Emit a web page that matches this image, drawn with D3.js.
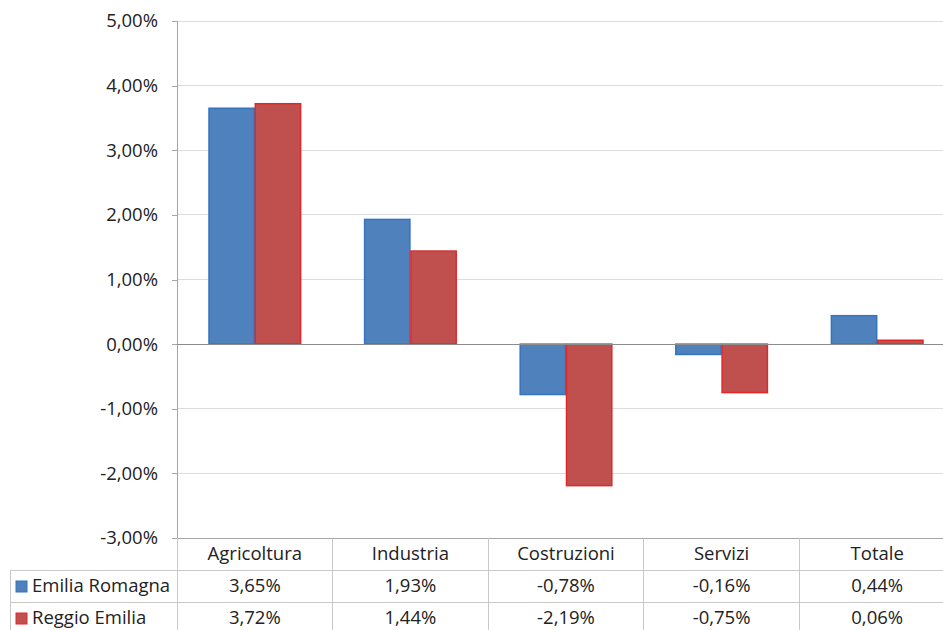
<!DOCTYPE html>
<html>
<head>
<meta charset="utf-8">
<script src="https://cdn.jsdelivr.net/npm/d3@7"></script>
<style>
  body { margin: 0; background: #fff; }
  text { font-family: "Open Sans", "Liberation Sans", sans-serif; fill: #222; }
</style>
</head>
<body>
<div id="chart"></div>
<script>
const categories = ['Agricoltura', 'Industria', 'Costruzioni', 'Servizi', 'Totale'];
const seriesNames = ['Emilia Romagna', 'Reggio Emilia'];
const emiliaRomagna = [3.65, 1.93, -0.78, -0.16, 0.44];
const reggioEmilia = [3.72, 1.44, -2.19, -0.75, 0.06];
const yTicks = [-3, -2, -1, 0, 1, 2, 3, 4, 5];

const W = 943, H = 630;
const cfg = {
  left: 177,
  right: 955,   // plot runs past the window edge, as in the original crop
  top: 21,
  bottom: 538,
  tableLeft: 10,
  rowH: 32,
  fontSize: 18.5,
};
const colors = [
  { fill: '#4F81BD', stroke: '#3574BE' },
  { fill: '#C0504D', stroke: '#E0282B' },
];
const fmt = (v) => v.toFixed(2).replace('.', ',') + '%';

const svg = d3.select('#chart').append('svg')
  .attr('width', W).attr('height', H);

/* ---------------- SCALES ---------------- */
const x = d3.scaleBand().domain(categories).range([cfg.left, cfg.right]);
const x1 = d3.scaleBand().domain(seriesNames).range([0, x.bandwidth()]).paddingOuter(0.68).paddingInner(0);
const y = d3.scaleLinear().domain([-3, 5]).range([cfg.bottom, cfg.top]);

/* ---------------- GRID ---------------- */
svg.append('g').selectAll('line').data(yTicks.filter((t) => t !== -3 && t !== 0))
  .join('line')
  .attr('x1', cfg.left).attr('x2', cfg.right)
  .attr('y1', (d) => y(d)).attr('y2', (d) => y(d))
  .attr('stroke', '#dcdcdc').attr('stroke-width', 1)
  .attr('shape-rendering', 'crispEdges');

/* ---------------- Y AXIS ---------------- */
const yAxis = svg.append('g')
  .attr('transform', `translate(${cfg.left},0)`)
  .call(d3.axisLeft(y).tickValues(yTicks).tickSize(5).tickPadding(14).tickFormat(fmt));
yAxis.select('.domain').attr('stroke', '#a6a6a6').attr('shape-rendering', 'crispEdges');
yAxis.selectAll('.tick line').attr('stroke', '#a6a6a6').attr('shape-rendering', 'crispEdges');
yAxis.selectAll('.tick text').attr('font-size', cfg.fontSize).attr('fill', '#222')
  .attr('font-family', '"Open Sans", "Liberation Sans", sans-serif');

/* ---------------- BARS ---------------- */
const rows = seriesNames.map((name, i) => ({
  name,
  values: (i === 0 ? emiliaRomagna : reggioEmilia),
}));
rows.forEach((s, si) => {
  svg.append('g').selectAll('rect').data(s.values.map((v, i) => ({ cat: categories[i], v })))
    .join('rect')
    .attr('x', (d) => x(d.cat) + x1(s.name) + 0.5)
    .attr('width', x1.bandwidth() - 1)
    .attr('y', (d) => y(Math.max(0, d.v)))
    .attr('height', (d) => Math.abs(y(d.v) - y(0)))
    .attr('fill', colors[si].fill)
    .attr('stroke', colors[si].stroke)
    .attr('stroke-width', 1.5);
});

/* zero line */
svg.append('line')
  .attr('x1', cfg.left).attr('x2', cfg.right)
  .attr('y1', y(0)).attr('y2', y(0))
  .attr('stroke', '#8c8c8c').attr('shape-rendering', 'crispEdges');

/* ---------------- DATA TABLE ---------------- */
const tb = svg.append('g').attr('shape-rendering', 'crispEdges');
const lineCol = '#c8c8c8';
// horizontal lines
[cfg.bottom, cfg.bottom + cfg.rowH, cfg.bottom + 2 * cfg.rowH].forEach((yy, i) => {
  tb.append('line')
    .attr('x1', i === 0 ? cfg.left : cfg.tableLeft).attr('x2', cfg.right)
    .attr('y1', yy).attr('y2', yy)
    .attr('stroke', i === 0 ? '#a6a6a6' : lineCol);
});
// vertical lines
categories.forEach((c) => {
  tb.append('line')
    .attr('x1', x(c)).attr('x2', x(c))
    .attr('y1', cfg.bottom).attr('y2', H)
    .attr('stroke', lineCol);
});
tb.append('line')
  .attr('x1', cfg.tableLeft).attr('x2', cfg.tableLeft)
  .attr('y1', cfg.bottom + cfg.rowH).attr('y2', H)
  .attr('stroke', lineCol);

// header
svg.append('g').selectAll('text').data(categories)
  .join('text')
  .attr('x', (d) => x(d) + x.bandwidth() / 2)
  .attr('y', cfg.bottom + cfg.rowH / 2 + 6)
  .attr('text-anchor', 'middle').attr('font-size', cfg.fontSize)
  .text((d) => d);

// rows
rows.forEach((s, si) => {
  const yy = cfg.bottom + cfg.rowH * (si + 1);
  svg.append('rect')
    .attr('x', cfg.tableLeft + 6).attr('y', yy + cfg.rowH / 2 - 5)
    .attr('width', 11).attr('height', 11)
    .attr('fill', colors[si].fill).attr('stroke', colors[si].stroke);
  svg.append('text')
    .attr('x', cfg.tableLeft + 22).attr('y', yy + cfg.rowH / 2 + 6)
    .attr('font-size', cfg.fontSize)
    .text(s.name);
  svg.append('g').selectAll('text').data(s.values.map((v, i) => ({ cat: categories[i], v })))
    .join('text')
    .attr('x', (d) => x(d.cat) + x.bandwidth() / 2)
    .attr('y', yy + cfg.rowH / 2 + 6)
    .attr('text-anchor', 'middle').attr('font-size', cfg.fontSize)
    .text((d) => fmt(d.v));
});
</script>
</body>
</html>
